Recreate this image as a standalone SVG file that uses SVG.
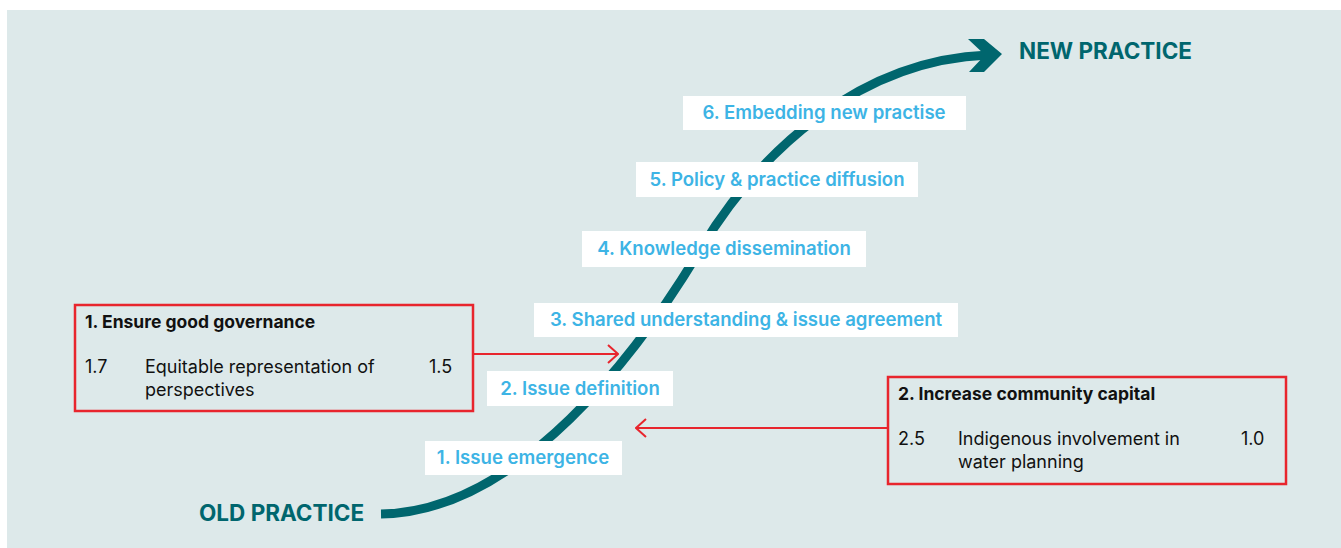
<svg xmlns="http://www.w3.org/2000/svg" width="1341" height="548" viewBox="0 0 1341 548">
<style>
.bg{fill:#ffffff}
.panel{fill:#dde9ea}
.lbox{fill:#ffffff}
.ltxt{font-family:Inter,"Liberation Sans",sans-serif;font-weight:600;font-size:18.6px;fill:#3db4e5;text-anchor:middle}
.end{font-family:Inter,"Liberation Sans",sans-serif;font-weight:700;font-size:22.5px;fill:#00666e}
.rbox{fill:none;stroke:#e8252d;stroke-width:2.5}
.rt{font-family:Inter,"Liberation Sans",sans-serif;font-weight:700;font-size:17.5px;fill:#111}
.rn{font-family:Inter,"Liberation Sans",sans-serif;font-weight:400;font-size:18px;fill:#111}
.curve{fill:none;stroke:#00666e;stroke-width:9}
.red{fill:none;stroke:#e8252d;stroke-width:2}
</style>
<defs>
<marker id="ah" viewBox="0 0 12 20" refX="11" refY="10" markerWidth="12" markerHeight="20" markerUnits="userSpaceOnUse" orient="auto">
<path d="M1,1 L11,10 L1,19" fill="none" stroke="#e8252d" stroke-width="2"/>
</marker>
</defs>
<rect class="bg" x="0" y="0" width="1341" height="548"/>
<rect class="panel" x="7" y="10" width="1334" height="538"/>
<g id="connectors">
<path class="curve" d="M381,514 C520,512 640,350 700,250 C760,150 860,60 988,55"/>
<polygon fill="#00666e" points="968,39 984,39 1002,54 984,72 969,72 985,55"/>
<path class="red" d="M473,354 L618,354" marker-end="url(#ah)"/>
<path class="red" d="M888,428 L636,428" marker-end="url(#ah)"/>
</g>
<g id="old-practice"><text class="end" x="199" y="521">OLD PRACTICE</text></g>
<g id="new-practice"><text class="end" x="1019" y="59">NEW PRACTICE</text></g>
<g id="stage6"><rect class="lbox" x="683" y="96" width="283" height="34"/><text class="ltxt" x="824" y="119">6. Embedding new practise</text></g>
<g id="stage5"><rect class="lbox" x="636" y="162" width="282" height="35"/><text class="ltxt" x="777" y="186">5. Policy &amp; practice diffusion</text></g>
<g id="stage4"><rect class="lbox" x="582" y="231" width="284" height="36"/><text class="ltxt" x="724" y="255">4. Knowledge dissemination</text></g>
<g id="stage3"><rect class="lbox" x="534" y="303" width="424" height="34"/><text class="ltxt" x="746" y="326">3. Shared understanding &amp; issue agreement</text></g>
<g id="stage2"><rect class="lbox" x="487" y="371" width="186" height="35"/><text class="ltxt" x="580" y="395">2. Issue definition</text></g>
<g id="stage1"><rect class="lbox" x="425" y="441" width="197" height="34"/><text class="ltxt" x="523" y="464">1. Issue emergence</text></g>
<g id="box1">
<rect class="rbox" x="75" y="305" width="398" height="106"/>
<text class="rt" x="85" y="328">1. Ensure good governance</text>
<text class="rn" x="85" y="373">1.7</text>
<text class="rn" x="145" y="373">Equitable representation of</text>
<text class="rn" x="145" y="396">perspectives</text>
<text class="rn" x="429" y="373">1.5</text>
</g>
<g id="box2">
<rect class="rbox" x="888" y="377" width="398" height="107"/>
<text class="rt" x="898" y="400">2. Increase community capital</text>
<text class="rn" x="898" y="445">2.5</text>
<text class="rn" x="958" y="445">Indigenous involvement in</text>
<text class="rn" x="958" y="468">water planning</text>
<text class="rn" x="1241" y="445">1.0</text>
</g>
</svg>
